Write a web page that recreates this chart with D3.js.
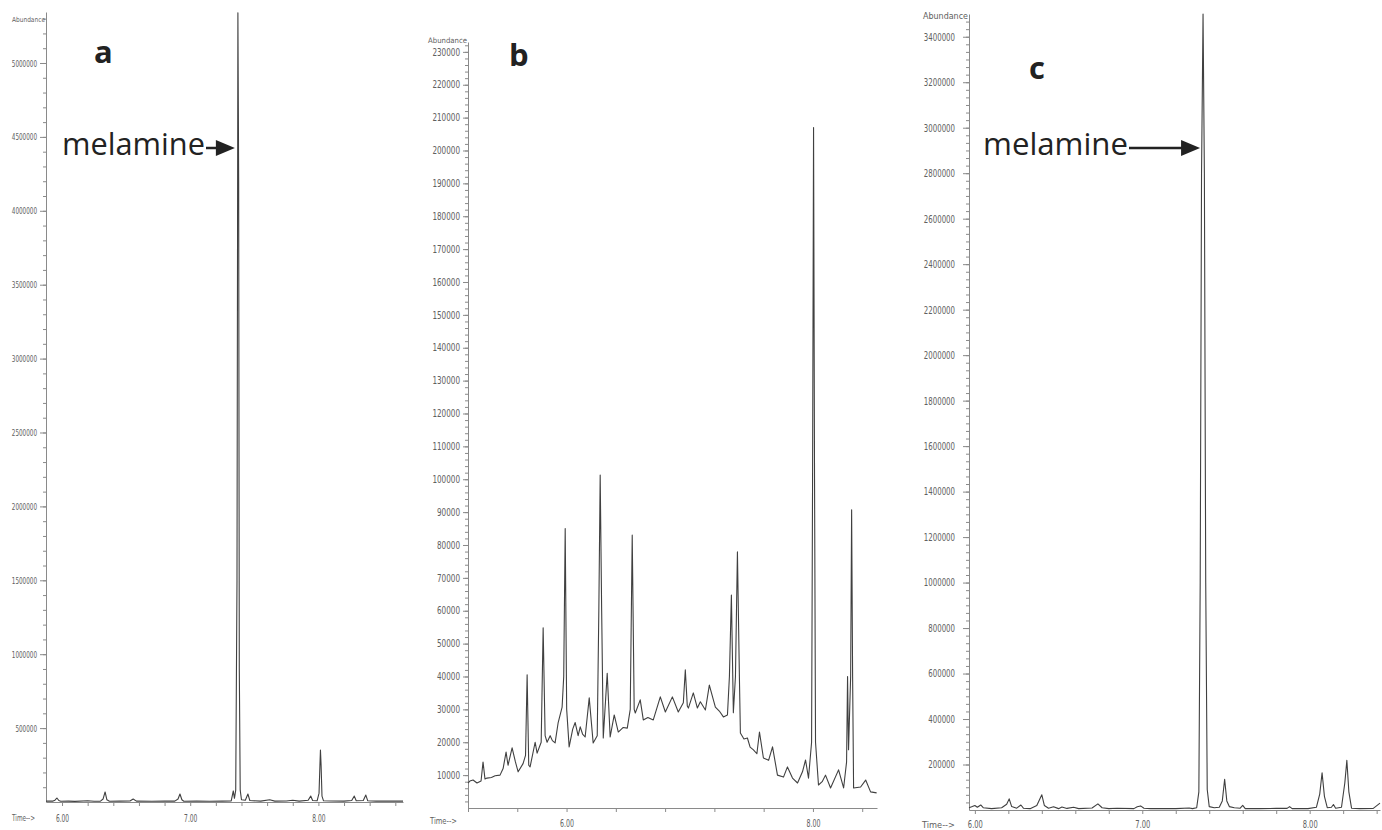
<!DOCTYPE html>
<html>
<head>
<meta charset="utf-8">
<script src="https://cdn.jsdelivr.net/npm/d3@7"></script>
<style>
  body { margin: 0; background: #fff; }
  svg { display: block; }
</style>
</head>
<body>
<svg width="1382" height="830"></svg>
<script>
// ---- panel a : melamine standard ----
const aTime = [5.875, 5.93, 5.945, 5.96, 5.975, 5.99, 6.05, 6.10, 6.20, 6.25, 6.30, 6.32, 6.336, 6.35, 6.37,
  6.45, 6.53, 6.555, 6.58, 6.70, 6.80, 6.88, 6.905, 6.92, 6.935, 6.95, 7.05, 7.15, 7.25, 7.32, 7.336, 7.345,
  7.355, 7.365, 7.372, 7.378, 7.383, 7.39, 7.40, 7.43, 7.45, 7.465, 7.55, 7.62, 7.66, 7.75, 7.80, 7.85, 7.92,
  7.94, 7.955, 7.99, 8.005, 8.012, 8.016, 8.021, 8.028, 8.04, 8.10, 8.20, 8.26, 8.28, 8.295, 8.35, 8.37, 8.385,
  8.45, 8.55, 8.60, 8.66];
const aAbund = [6000, 6000, 12000, 27000, 10000, 5000, 6000, 4000, 8000, 5000, 6000, 20000, 68000, 15000, 5000,
  6000, 7000, 20000, 6000, 5000, 7000, 6000, 20000, 54000, 15000, 5000, 6000, 5000, 6000, 7000, 75000, 25000,
  80000, 1500000, 5340000, 4200000, 900000, 80000, 15000, 12000, 54000, 10000, 6000, 15000, 6000, 7000, 12000, 6000, 12000,
  40000, 10000, 8000, 60000, 250000, 352000, 250000, 40000, 8000, 7000, 6000, 10000, 40000, 8000, 10000, 47000, 8000,
  6000, 7000, 6000, 6000];
const aYTicks = [500000, 1000000, 1500000, 2000000, 2500000, 3000000, 3500000, 4000000, 4500000, 5000000];
const aXLabels = [6, 7, 8];

// ---- panel b : sample without melamine ----
const bTime = [5.200, 5.215, 5.241, 5.273, 5.306, 5.322, 5.338, 5.354, 5.390, 5.420, 5.460, 5.485, 5.509, 5.525,
  5.558, 5.585, 5.607, 5.647, 5.667, 5.680, 5.693, 5.704, 5.745, 5.761, 5.794, 5.810, 5.826, 5.842, 5.867, 5.885,
  5.907, 5.932, 5.964, 5.977, 5.989, 6.001, 6.021, 6.050, 6.070, 6.094, 6.111, 6.130, 6.151, 6.184, 6.216, 6.249,
  6.262, 6.273, 6.285, 6.298, 6.330, 6.354, 6.387, 6.420, 6.460, 6.493, 6.517, 6.533, 6.549, 6.558, 6.598, 6.623,
  6.660, 6.704, 6.761, 6.802, 6.859, 6.907, 6.948, 6.964, 6.980, 6.989, 7.029, 7.062, 7.086, 7.127, 7.159, 7.208,
  7.240, 7.273, 7.306, 7.322, 7.338, 7.354, 7.371, 7.387, 7.403, 7.411, 7.440, 7.468, 7.490, 7.517, 7.545, 7.566,
  7.598, 7.640, 7.672, 7.712, 7.761, 7.793, 7.834, 7.875, 7.915, 7.940, 7.964, 7.989, 7.997, 8.005, 8.013, 8.021,
  8.045, 8.075, 8.102, 8.143, 8.208, 8.249, 8.273, 8.281, 8.289, 8.306, 8.314, 8.322, 8.330, 8.387, 8.428, 8.468,
  8.517];
const bAbund = [7600, 8200, 8500, 7600, 8200, 14000, 8800, 9100, 9300, 9800, 10000, 12000, 17000, 13000,
  18300, 14000, 11000, 13500, 16000, 40500, 13000, 12500, 20000, 16700, 20000, 54800, 22000, 20000, 22000, 20500,
  19800, 26000, 30700, 40000, 85000, 30000, 18600, 24000, 26000, 22000, 24700, 22500, 21600, 33500, 19800, 22000,
  60000, 101300, 60000, 21300, 41000, 21600, 28300, 23100, 24500, 24300, 30000, 83000, 30000, 28900, 32900, 26800,
  27500, 26800, 33800, 29200, 33800, 29200, 32000, 42000, 31000, 30400, 35000, 30400, 32300, 29800, 37400, 30700,
  29500, 27700, 28300, 40000, 64800, 29000, 40000, 77900, 40000, 22800, 21000, 21300, 18500, 17700, 16500, 23100,
  15200, 14500, 18600, 10000, 9400, 12500, 9100, 7600, 11000, 14600, 9100, 20000, 100000, 207000, 100000, 20000,
  7000, 8000, 10000, 6100, 11600, 6100, 14000, 40000, 17700, 40000, 90700, 40000, 6100, 6400, 8500, 4900,
  4600];
const bYTicks = [10000, 20000, 30000, 40000, 50000, 60000, 70000, 80000, 90000, 100000, 110000, 120000, 130000,
  140000, 150000, 160000, 170000, 180000, 190000, 200000, 210000, 220000, 230000];
const bXLabels = [6, 8];

// ---- panel c : spiked sample ----
const cTime = [5.965, 5.985, 6.00, 6.015, 6.035, 6.05, 6.10, 6.16, 6.19, 6.205, 6.22, 6.25, 6.275, 6.29, 6.33,
  6.37, 6.40, 6.415, 6.44, 6.47, 6.50, 6.52, 6.55, 6.59, 6.62, 6.70, 6.735, 6.76, 6.80, 6.85, 6.95, 6.97, 6.99,
  7.01, 7.05, 7.20, 7.28, 7.30, 7.325, 7.338, 7.346, 7.354, 7.363, 7.371, 7.379, 7.388, 7.40, 7.43, 7.46, 7.478,
  7.492, 7.505, 7.52, 7.55, 7.585, 7.60, 7.615, 7.70, 7.80, 7.865, 7.88, 7.895, 7.99, 8.04, 8.06, 8.074, 8.088,
  8.105, 8.13, 8.142, 8.155, 8.19, 8.21, 8.222, 8.234, 8.25, 8.30, 8.38, 8.42];
const cAbund = [10000, 15000, 20000, 12000, 22000, 10000, 6000, 10000, 25000, 49000, 15000, 8000, 22000, 8000, 6000,
  20000, 67000, 20000, 8000, 14000, 6000, 13000, 7000, 12000, 6000, 9000, 27000, 10000, 6000, 8000, 6000, 14000, 18000,
  8000, 6000, 6000, 9000, 6000, 10000, 80000, 1000000, 2800000, 3500000, 2800000, 1000000, 90000, 15000, 10000, 12000, 40000,
  135000, 40000, 15000, 10000, 8000, 20000, 6000, 6000, 7000, 7000, 15000, 6000, 6000, 12000, 70000, 164000, 60000,
  10000, 12000, 24000, 8000, 12000, 120000, 218000, 80000, 8000, 6000, 7000, 30000];
const cYTicks = [200000, 400000, 600000, 800000, 1000000, 1200000, 1400000, 1600000, 1800000, 2000000, 2200000,
  2400000, 2600000, 2800000, 3000000, 3200000, 3400000];
const cXLabels = [6, 7, 8];

const svg = d3.select('svg');
const axisColor = '#8a8a8a';
const labelColor = '#606060';
const traceColor = '#404040';
const narrow = '"Liberation Sans Narrow", "DejaVu Sans Condensed", "Liberation Sans", sans-serif';

const panels = [
  { letter: 'a', time: aTime, abund: aAbund, yTicks: aYTicks, xLabels: aXLabels,
    left: 46, right: 403, bottom: 802, top: 12, xDom: [5.875, 8.66], yTop: 5345000,
    yMinor: 100000, xMinor: 0.2, xMinorFrom: 6.0,
    yFs: 9.5, yCw: 3.6, ySize: 6, yPad: 3, xFs: 10, xCw: 3.3, xLabY: 20,
    abX: 12, abY: 22, abW: 33, abFs: 7,
    timeX: 12, timeY: 821, timeW: 23,
    letterX: 94, letterY: 63, mel: { x: 62, y: 155, w: 143, peak: 7.372 } },
  { letter: 'b', time: bTime, abund: bAbund, yTicks: bYTicks, xLabels: bXLabels,
    left: 468, right: 877, bottom: 808, top: 42, xDom: [5.2, 8.52], yTop: 233000,
    yMinor: 2000, xMinor: 0.4, xMinorFrom: 5.2,
    yFs: 10, yCw: 4.6, ySize: 5, yPad: 3, xFs: 10.5, xCw: 3.5, xLabY: 19,
    abX: 428, abY: 43, abW: 39, abFs: 7.5,
    timeX: 430, timeY: 824, timeW: 27,
    letterX: 509, letterY: 66, mel: null },
  { letter: 'c', time: cTime, abund: cAbund, yTicks: cYTicks, xLabels: cXLabels,
    left: 969, right: 1380, bottom: 810, top: 14, xDom: [5.965, 8.42], yTop: 3500000,
    yMinor: 200000 / 6, xMinor: 0.2, xMinorFrom: 6.0,
    yFs: 10.5, yCw: 4.45, ySize: 6, yPad: 8, xFs: 10.5, xCw: 3.75, xLabY: 18,
    abX: 923, abY: 19, abW: 45, abFs: 8.5,
    timeX: 922, timeY: 828, timeW: 33,
    letterX: 1029, letterY: 79, mel: { x: 983, y: 155, w: 145, peak: 7.363 } }
];

function squeeze(sel, cw) {
  sel.each(function () {
    const t = d3.select(this);
    const s = t.text();
    if (s) t.attr('textLength', s.length * cw).attr('lengthAdjust', 'spacingAndGlyphs');
  });
}

panels.forEach(p => {
  const g = svg.append('g');
  const x = d3.scaleLinear().domain(p.xDom).range([p.left, p.right]);
  const y = d3.scaleLinear().domain([0, p.yTop]).range([p.bottom, p.top]);

  // minor y ticks
  const yMinorVals = d3.range(p.yMinor, p.yTop, p.yMinor);
  g.append('g')
    .attr('transform', `translate(${p.left},0)`)
    .call(d3.axisLeft(y).tickValues(yMinorVals).tickSize(3).tickFormat(''))
    .call(s => s.select('.domain').remove())
    .call(s => s.selectAll('line').attr('stroke', axisColor));

  // major y ticks
  const yAx = g.append('g')
    .attr('transform', `translate(${p.left},0)`)
    .call(d3.axisLeft(y).tickValues(p.yTicks).tickSize(p.ySize).tickSizeOuter(0)
      .tickPadding(p.yPad).tickFormat(d3.format('d')));
  yAx.select('.domain').attr('stroke', axisColor);
  yAx.selectAll('line').attr('stroke', axisColor);
  yAx.selectAll('text')
    .attr('fill', labelColor).style('font-family', narrow).style('font-size', p.yFs + 'px')
    .call(squeeze, p.yCw);

  // x axis
  const xVals = d3.range(p.xMinorFrom, p.xDom[1] + 1e-6, p.xMinor).map(v => +v.toFixed(2));
  const xAx = g.append('g')
    .attr('transform', `translate(0,${p.bottom})`)
    .call(d3.axisBottom(x).tickValues(xVals).tickSize(4).tickSizeOuter(0)
      .tickFormat(d => p.xLabels.some(l => Math.abs(l - d) < 1e-6) ? d.toFixed(2) : ''));
  xAx.select('.domain').attr('stroke', axisColor);
  xAx.selectAll('line').attr('stroke', axisColor);
  xAx.selectAll('text')
    .attr('fill', labelColor).attr('y', p.xLabY).attr('dy', null)
    .style('font-family', narrow).style('font-size', p.xFs + 'px')
    .call(squeeze, p.xCw);

  // axis captions
  g.append('text').text('Abundance')
    .attr('x', p.abX).attr('y', p.abY).attr('fill', labelColor)
    .style('font-family', narrow).style('font-size', p.abFs + 'px')
    .attr('textLength', p.abW).attr('lengthAdjust', 'spacingAndGlyphs');
  g.append('text').text('Time-->')
    .attr('x', p.timeX).attr('y', p.timeY).attr('fill', labelColor)
    .style('font-family', narrow).style('font-size', '9px')
    .attr('textLength', p.timeW).attr('lengthAdjust', 'spacingAndGlyphs');

  // trace
  const pts = p.time.map((t, i) => [t, p.abund[i]]);
  const line = d3.line().x(d => x(d[0])).y(d => y(d[1]));
  g.append('path')
    .attr('d', line(pts))
    .attr('fill', 'none')
    .attr('stroke', traceColor)
    .attr('stroke-width', 1.1)
    .attr('stroke-linejoin', 'round');

  // panel letter
  g.append('text').text(p.letter)
    .attr('x', p.letterX).attr('y', p.letterY)
    .attr('fill', '#222')
    .style('font-family', '"Open Sans", sans-serif')
    .style('font-weight', 700).style('font-size', '31px');

  // melamine annotation
  if (p.mel) {
    const m = p.mel;
    g.append('text').text('melamine')
      .attr('x', m.x).attr('y', m.y).attr('fill', '#222')
      .style('font-family', '"Open Sans", sans-serif').style('font-size', '31px')
      .attr('textLength', m.w).attr('lengthAdjust', 'spacingAndGlyphs');
    const tip = x(m.peak) - 3;
    const ay = m.y - 7;
    g.append('line')
      .attr('x1', m.x + m.w + 1).attr('x2', tip - 14)
      .attr('y1', ay).attr('y2', ay)
      .attr('stroke', '#222').attr('stroke-width', 2.5);
    g.append('path')
      .attr('d', `M${tip},${ay} L${tip - 19},${ay - 8} L${tip - 19},${ay + 8} Z`)
      .attr('fill', '#222');
  }
});
</script>
</body>
</html>
